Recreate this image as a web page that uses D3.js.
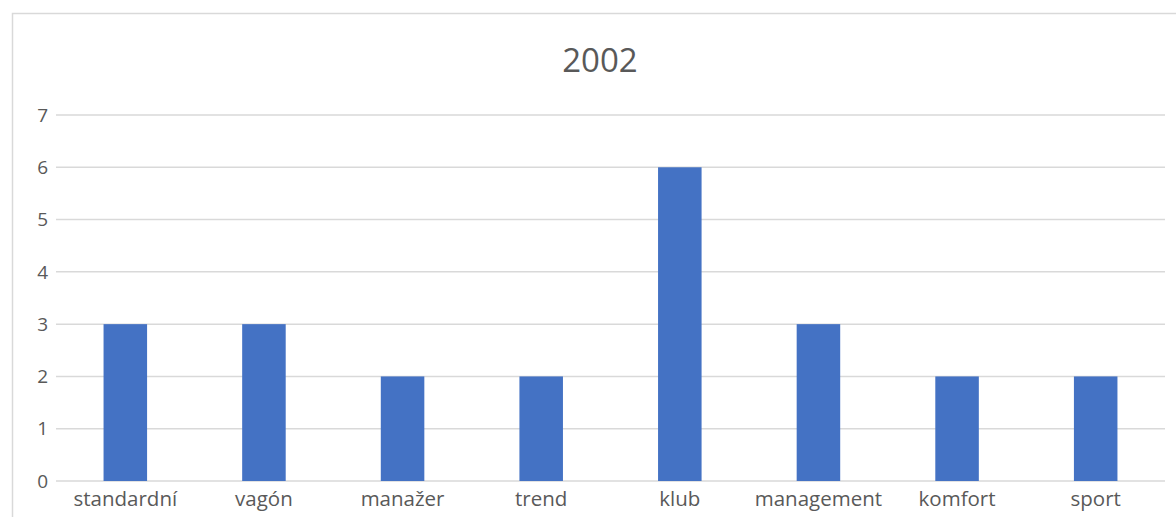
<!DOCTYPE html>
<html>
<head>
<meta charset="utf-8">
<script src="https://cdn.jsdelivr.net/npm/d3@7"></script>
<style>
  body { margin: 0; background: #fff; }
  text { font-family: "Open Sans", "Noto Sans", sans-serif; fill: #595959; }
</style>
</head>
<body>
<div id="chart"></div>
<script>
// Data
const categories = ["standardní", "vagón", "manažer", "trend", "klub", "management", "komfort", "sport"];
const values = [3, 3, 2, 2, 6, 3, 2, 2];
const yTicks = [0, 1, 2, 3, 4, 5, 6, 7];
const title = "2002";

const width = 1176, height = 517;
const plot = { left: 56, right: 1165, top: 115, bottom: 481 };

const svg = d3.select("#chart")
    .append("svg")
    .attr("width", width)
    .attr("height", height);

// Chart border
svg.append("rect")
    .attr("x", 12.5).attr("y", 13.5)
    .attr("width", 1200).attr("height", 600)
    .attr("fill", "none")
    .attr("stroke", "#d9d9d9")
    .attr("stroke-width", 1.5);

// Scales
const x = d3.scaleBand()
    .domain(categories)
    .range([plot.left, plot.right])
    .paddingInner(0.686)
    .paddingOuter(0.343);

const y = d3.scaleLinear()
    .domain([0, 7])
    .range([plot.bottom, plot.top]);

// Gridlines
svg.selectAll("line.grid")
    .data(yTicks)
    .enter()
    .append("line")
    .attr("class", "grid")
    .attr("x1", plot.left).attr("x2", plot.right)
    .attr("y1", d => y(d)).attr("y2", d => y(d))
    .attr("stroke", "#d9d9d9")
    .attr("stroke-width", 1.5);

// Bars
svg.selectAll("rect.bar")
    .data(values)
    .enter()
    .append("rect")
    .attr("class", "bar")
    .attr("x", (d, i) => x(categories[i]))
    .attr("y", d => y(d))
    .attr("width", x.bandwidth())
    .attr("height", d => y(0) - y(d))
    .attr("fill", "#4472c4");

// Y tick labels
svg.selectAll("text.ytick")
    .data(yTicks)
    .enter()
    .append("text")
    .attr("class", "ytick")
    .attr("x", 48)
    .attr("y", d => y(d))
    .attr("dy", "0.35em")
    .attr("text-anchor", "end")
    .style("font-size", "19px")
    .text(d => d);

// X labels
svg.selectAll("text.xlabel")
    .data(categories)
    .enter()
    .append("text")
    .attr("class", "xlabel")
    .attr("x", d => x(d) + x.bandwidth() / 2)
    .attr("y", 506)
    .attr("text-anchor", "middle")
    .style("font-size", "20.5px")
    .text(d => d);

// Title
svg.append("text")
    .attr("x", 600)
    .attr("y", 72)
    .attr("text-anchor", "middle")
    .style("font-size", "33px")
    .text(title);
</script>
</body>
</html>
